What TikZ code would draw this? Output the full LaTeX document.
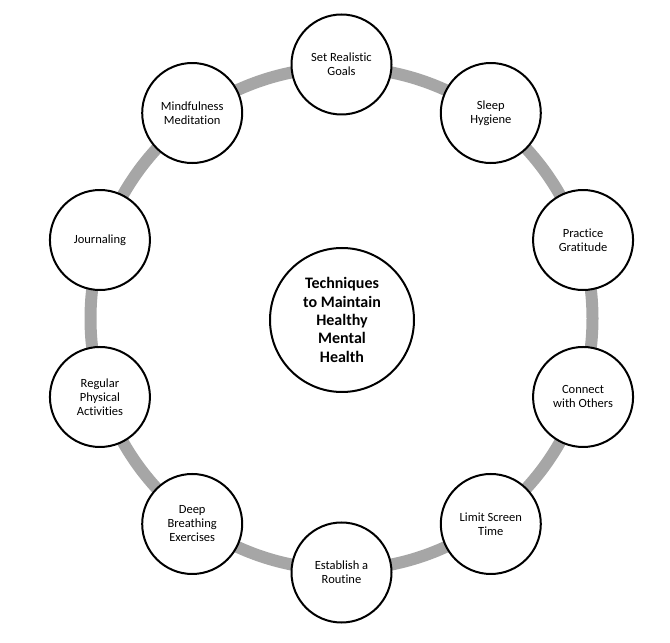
\documentclass[tikz,border=0pt]{standalone}
\usepackage{fontspec}
\setmainfont[Ligatures=NoCommon]{Carlito}
\definecolor{ringgray}{HTML}{A6A6A6}
\tikzset{
  outer/.style={circle, draw=black, line width=2pt, fill=white, minimum size=100pt, inner sep=0pt,
    align=center, font=\fontsize{12.5}{14}\selectfont},
  hub/.style={circle, draw=black, line width=2pt, fill=white, minimum size=144pt, inner sep=0pt,
    align=center, font=\fontsize{16}{18.3}\selectfont\bfseries},
  ring/.style={draw=ringgray, line width=12pt}
}
\begin{document}
\begin{tikzpicture}[x=1pt,y=1pt]
\useasboundingbox (0,0) rectangle (670,643);
\coordinate (c) at (341.5,324.5);
\draw[ring] (c) circle (251);
\node[hub] (hub) at (342,323) {Techniques\\to Maintain\\Healthy\\Mental\\Health};
\node[outer] (n1) at ([shift={(90:254)}]c) {Set Realistic\\Goals};
\node[outer] (n2) at ([shift={(54:254)}]c) {Sleep\\Hygiene};
\node[outer] (n3) at ([shift={(18:254)}]c) {Practice\\Gratitude};
\node[outer] (n4) at ([shift={(-18:254)}]c) {Connect\\with Others};
\node[outer] (n5) at ([shift={(-54:254)}]c) {Limit Screen\\Time};
\node[outer] (n6) at ([shift={(-90:254)}]c) {Establish a\\Routine};
\node[outer] (n7) at ([shift={(-126:254)}]c) {Deep\\Breathing\\Exercises};
\node[outer] (n8) at ([shift={(-162:254)}]c) {Regular\\Physical\\Activities};
\node[outer] (n9) at ([shift={(162:254)}]c) {Journaling};
\node[outer] (n10) at ([shift={(126:254)}]c) {Mindfulness\\Meditation};
\end{tikzpicture}
\end{document}
